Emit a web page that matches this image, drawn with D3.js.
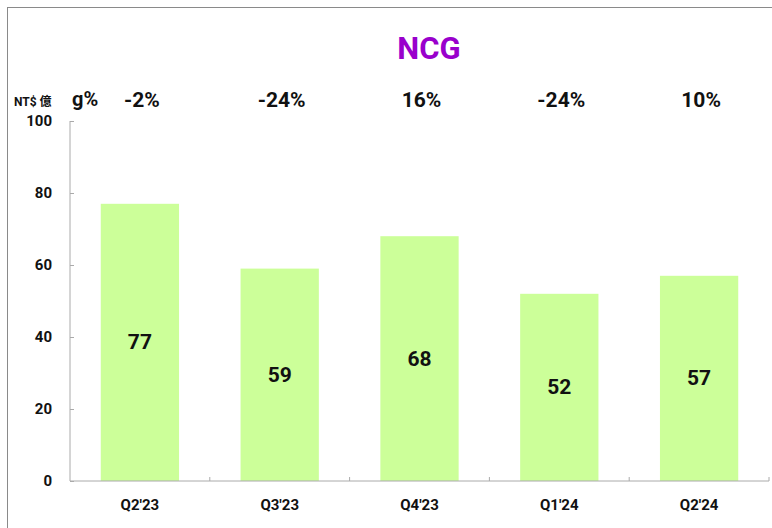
<!DOCTYPE html>
<html>
<head>
<meta charset="utf-8">
<script src="https://cdn.jsdelivr.net/npm/d3@7"></script>
<style>
  body { margin: 0; background: #fff; }
  text { font-family: Roboto, "Noto Sans CJK TC", sans-serif; font-weight: bold; fill: #111; }
</style>
</head>
<body>
<div id="chart-area"></div>
<script>
var quarters = ["Q2'23", "Q3'23", "Q4'23", "Q1'24", "Q2'24"];
var revenue = [77, 59, 68, 52, 57];
var growth = ["-2%", "-24%", "16%", "-24%", "10%"];
var yTicks = [0, 20, 40, 60, 80, 100];

var W = 772, H = 528;
var margin = { left: 70, right: 3, top: 121, bottom: 47 };
var width = W - margin.left - margin.right,
    height = H - margin.top - margin.bottom;

var svg = d3.select("#chart-area")
    .append("svg")
    .attr("width", W)
    .attr("height", H);

// outer frame
svg.append("rect")
    .attr("x", 7.5).attr("y", 7.5)
    .attr("width", W).attr("height", H)
    .attr("fill", "none")
    .attr("stroke", "#8a8a8a")
    .attr("stroke-width", 1);

// title
svg.append("text")
    .attr("x", 429).attr("y", 59)
    .attr("text-anchor", "middle")
    .attr("font-size", "31px")
    .style("fill", "#9900cc")
    .text("NCG");

var g = svg.append("g")
    .attr("transform", "translate(" + margin.left + "," + margin.top + ")");

var x = d3.scaleBand()
    .domain(quarters)
    .range([0, width])
    .paddingInner(0.44)
    .paddingOuter(0.22);

var y = d3.scaleLinear().domain([0, 100]).range([height, 0]);

// bars
g.selectAll("rect.bar")
    .data(revenue)
    .enter().append("rect")
    .attr("class", "bar")
    .attr("x", function (d, i) { return x(quarters[i]); })
    .attr("width", x.bandwidth())
    .attr("y", function (d) { return y(d); })
    .attr("height", function (d) { return height - y(d); })
    .attr("fill", "#ccff99");

// value labels
g.selectAll("text.val")
    .data(revenue)
    .enter().append("text")
    .attr("class", "val")
    .attr("x", function (d, i) { return x(quarters[i]) + x.bandwidth() / 2; })
    .attr("y", function (d) { return (y(d) + height) / 2 + 7; })
    .attr("text-anchor", "middle")
    .attr("font-size", "21px")
    .text(function (d) { return d; });

// Y axis
var yAxis = g.append("g")
    .call(d3.axisRight(y).tickValues(yTicks).tickSize(4).tickFormat(""));
yAxis.select(".domain").attr("stroke", "#aaa").attr("d", "M0," + y(100) + "V" + height);
yAxis.selectAll(".tick line").attr("stroke", "#aaa");

g.selectAll("text.ytick")
    .data(yTicks)
    .enter().append("text")
    .attr("class", "ytick")
    .attr("x", -18)
    .attr("y", function (d) { return y(d) + 5; })
    .attr("text-anchor", "end")
    .attr("font-size", "15px")
    .text(function (d) { return d; });

// X axis: boundary ticks pointing up
var bounds = d3.range(quarters.length + 1).map(function (i) { return i * width / quarters.length; });
var xAxis = g.append("g").attr("transform", "translate(0," + height + ")");
xAxis.append("line")
    .attr("x1", 0).attr("x2", width)
    .attr("stroke", "#aaa");
xAxis.selectAll("line.xt")
    .data(bounds.slice(1))
    .enter().append("line")
    .attr("class", "xt")
    .attr("x1", function (d) { return d; }).attr("x2", function (d) { return d; })
    .attr("y1", 0).attr("y2", -4)
    .attr("stroke", "#aaa");

g.selectAll("text.cat")
    .data(quarters)
    .enter().append("text")
    .attr("class", "cat")
    .attr("x", function (d) { return x(d) + x.bandwidth() / 2; })
    .attr("y", height + 29)
    .attr("text-anchor", "middle")
    .attr("font-size", "15px")
    .text(function (d) { return d; });

// growth labels
g.selectAll("text.gr")
    .data(growth)
    .enter().append("text")
    .attr("class", "gr")
    .attr("x", function (d, i) { return x(quarters[i]) + x.bandwidth() / 2 + 2; })
    .attr("y", -14)
    .attr("text-anchor", "middle")
    .attr("font-size", "21px")
    .text(function (d) { return d; });

svg.append("text")
    .attr("x", 72).attr("y", 106)
    .attr("font-size", "20px")
    .text("g%");

svg.append("text")
    .attr("x", 14).attr("y", 106)
    .attr("font-size", "12px")
    .text("NT$ 億");
</script>
</body>
</html>
